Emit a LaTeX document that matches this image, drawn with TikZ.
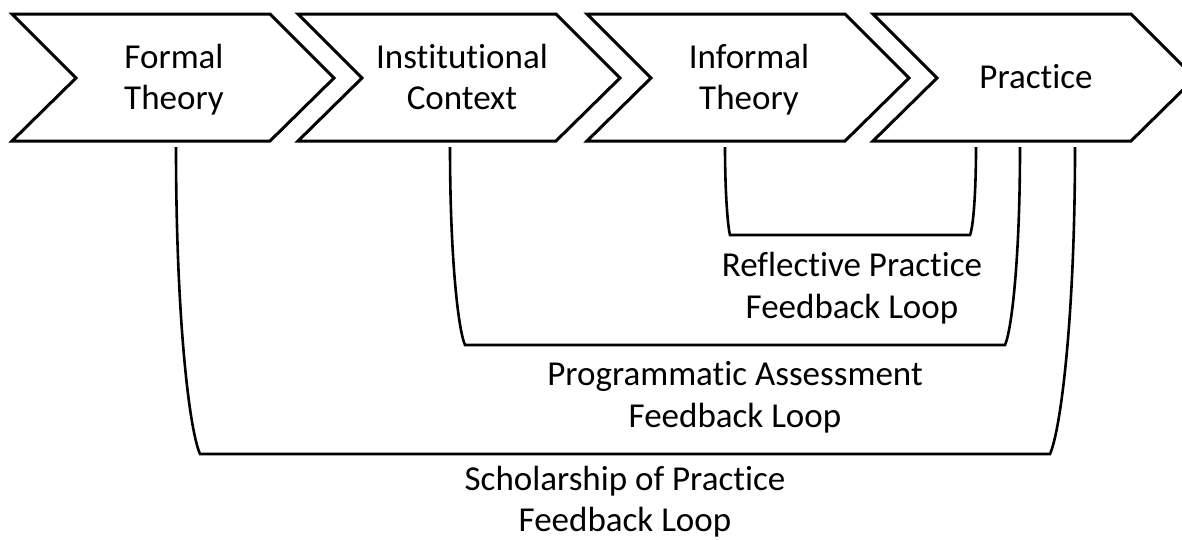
\documentclass[tikz,border=0pt]{standalone}
\usepackage{fontspec}
\setmainfont{Carlito}[Ligatures=NoCommon]
\begin{document}
\begin{tikzpicture}[x=1pt,y=-1pt,line join=miter,
  chev/.style={draw=black,line width=3pt,fill=white},
  loopline/.style={draw=black,line width=2.6pt},
  lbl/.style={align=center,anchor=base,inner sep=0pt,font=\fontsize{35}{41}\selectfont},
  lblw/.style={lbl,font=\fontsize{35}{42}\selectfont}]
\clip (0,0) rectangle (1182,539);
\fill[white] (0,0) rectangle (1182,539);
% chevrons
\foreach \L in {12,298,587,873}{
  \draw[chev] (\L,14) -- ({\L+258},14) -- ({\L+322},78) -- ({\L+258},141) -- (\L,141) -- ({\L+64},78) -- cycle;
}
% chevron labels (anchor = baseline of last line)
\node[lbl] (formal) at (174,109) {Formal\\Theory};
\node[lbl] (inst) at (462,109) {Institutional\\Context};
\node[lbl] (informal) at (749,109) {Informal\\Theory};
\node[lbl] (prac) at (1036,88) {Practice};
% loop end points
\coordinate (sA) at (176,147);
\coordinate (sB) at (200,454);
\coordinate (sC) at (1050,454);
\coordinate (sD) at (1075,147);
\coordinate (pA) at (450,147);
\coordinate (pB) at (465,345);
\coordinate (pC) at (1005,345);
\coordinate (pD) at (1020,147);
\coordinate (rA) at (725,147);
\coordinate (rB) at (730,235);
\coordinate (rC) at (970,235);
\coordinate (rD) at (976,147);
% loops
\draw[loopline] (sA) .. controls (176,316) and (189,429) .. (sB) -- (sC)
  .. controls (1061,429) and (1075,316) .. (sD);
\draw[loopline] (pA) .. controls (450,256) and (458,329) .. (pB) -- (pC)
  .. controls (1012,329) and (1020,256) .. (pD);
\draw[loopline] (rA) .. controls (725,195) and (728,228) .. (rB) -- (rC)
  .. controls (973,228) and (976,195) .. (rD);
% loop labels
\node[lblw] (rlab) at (852,318) {Reflective Practice\\Feedback Loop};
\node[lblw] (plab) at (735,427) {Programmatic Assessment\\Feedback Loop};
\node[lbl] (slab) at (625,531) {Scholarship of Practice\\Feedback Loop};
\end{tikzpicture}
\end{document}
